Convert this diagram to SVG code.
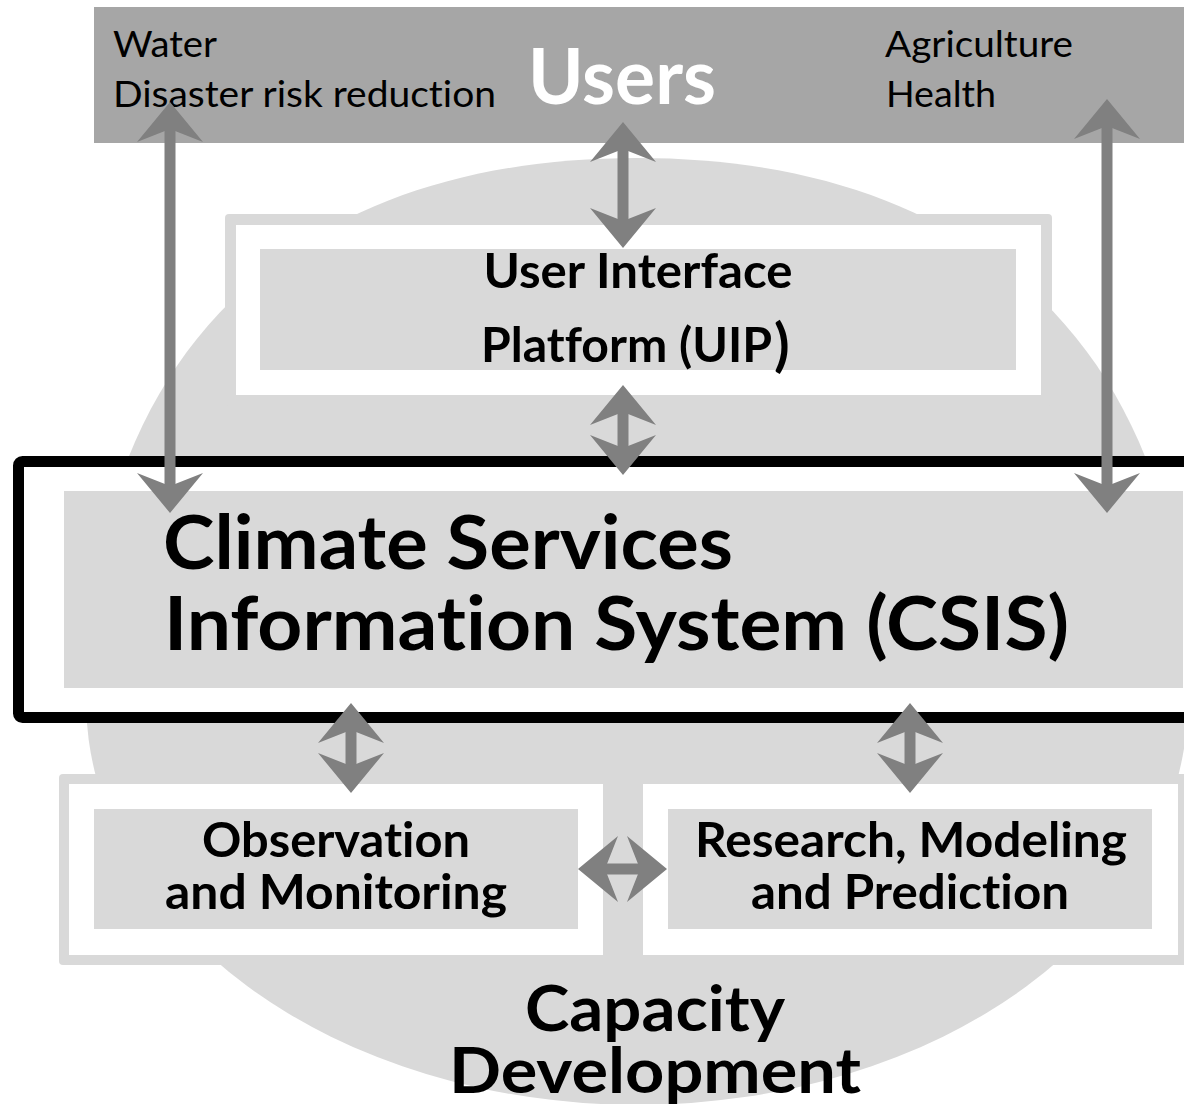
<svg xmlns="http://www.w3.org/2000/svg" width="1184" height="1104" viewBox="0 0 1184 1104">
  <defs>
    <style>
      .bar { fill: #a6a6a6; }
      .soft { fill: #d9d9d9; }
      .white { fill: #ffffff; }
      .frame { fill: #ffffff; stroke: #000000; stroke-width: 11; }
      .t { font-family: Lato, "Open Sans", "Liberation Sans", sans-serif; fill: #000000; font-variant-ligatures: none; font-feature-settings: "liga" 0, "clig" 0; }
      .reg { font-weight: 400; font-size: 37px; }
      .bold { font-weight: 700; }
      .shaft { stroke: #808080; stroke-width: 11; fill: none; }
      .head { fill: #808080; }
    </style>
    <!-- arrowhead pointing up, tip at the origin -->
    <path id="ah" d="M0 0 L33 40 L0 27 L-33 40 Z"/>
  </defs>

  <rect width="1184" height="1104" fill="#ffffff"/>

  <!-- Capacity Development backdrop -->
  <g id="capacity-development">
    <path class="soft" d="M637 158 C984 158 1188 358 1188 700 A551 405 0 0 1 86 700 C86 358 290 158 637 158 Z"/>
    <text class="t bold" font-size="63" x="655" y="1031" text-anchor="middle" textLength="260" lengthAdjust="spacingAndGlyphs">Capacity</text>
    <text class="t bold" font-size="63" x="655" y="1093" text-anchor="middle" textLength="412" lengthAdjust="spacingAndGlyphs">Development</text>
  </g>

  <!-- Users bar -->
  <g id="users">
    <rect class="bar" x="94" y="7" width="1100" height="136"/>
    <text class="t reg" x="113" y="57" textLength="104" lengthAdjust="spacingAndGlyphs">Water</text>
    <text class="t reg" x="113" y="107" textLength="383" lengthAdjust="spacingAndGlyphs">Disaster risk reduction</text>
    <text class="t reg" x="885" y="57" textLength="188" lengthAdjust="spacingAndGlyphs">Agriculture</text>
    <text class="t reg" x="886" y="107" textLength="110" lengthAdjust="spacingAndGlyphs">Health</text>
    <text class="t bold" x="528" y="104" font-size="77" style="fill:#ffffff" textLength="188" lengthAdjust="spacingAndGlyphs">Users</text>
  </g>

  <!-- User Interface Platform -->
  <g id="uip">
    <rect class="soft" x="225" y="214" width="827" height="192" rx="4"/>
    <rect class="white" x="236" y="225" width="805" height="170"/>
    <rect class="soft" x="260" y="249" width="756" height="121"/>
    <text class="t bold" font-size="48" x="638" y="288" text-anchor="middle" textLength="309" lengthAdjust="spacingAndGlyphs">User Interface</text>
    <text class="t bold" font-size="48" x="481" y="362" textLength="291" lengthAdjust="spacingAndGlyphs">Platform (UIP</text>
    <text class="t bold" font-size="57" x="774" y="365">)</text>
  </g>

  <!-- Climate Services Information System -->
  <g id="csis">
    <rect class="frame" x="18.5" y="461.5" width="1200" height="256" rx="4"/>
    <rect class="soft" x="64" y="491" width="1119" height="197"/>
    <text class="t bold" font-size="75" x="163" y="569" textLength="570" lengthAdjust="spacingAndGlyphs">Climate Services</text>
    <text class="t bold" font-size="75" x="164" y="650" textLength="905" lengthAdjust="spacingAndGlyphs">Information System (CSIS)</text>
  </g>

  <!-- shared container of the two lower components -->
  <rect class="soft" x="59" y="774" width="1135" height="191" rx="4"/>

  <g id="observation">
    <rect class="white" x="69" y="784" width="534" height="171"/>
    <rect class="soft" x="94" y="809" width="484" height="120"/>
    <text class="t bold" font-size="48" x="336" y="857" text-anchor="middle" textLength="268" lengthAdjust="spacingAndGlyphs">Observation</text>
    <text class="t bold" font-size="48" x="336" y="909" text-anchor="middle" textLength="342" lengthAdjust="spacingAndGlyphs">and Monitoring</text>
  </g>

  <g id="research">
    <rect class="white" x="643" y="784" width="535" height="171"/>
    <rect class="soft" x="668" y="809" width="484" height="120"/>
    <text class="t bold" font-size="48" x="911" y="857" text-anchor="middle" textLength="432" lengthAdjust="spacingAndGlyphs">Research, Modeling</text>
    <text class="t bold" font-size="48" x="910" y="909" text-anchor="middle" textLength="318" lengthAdjust="spacingAndGlyphs">and Prediction</text>
  </g>

  <!-- connectors -->
  <g id="connectors">
    <!-- sector users to CSIS, left -->
    <line class="shaft" x1="170" y1="128" x2="170" y2="487"/>
    <use href="#ah" class="head" transform="translate(170 102)"/>
    <use href="#ah" class="head" transform="translate(170 513) rotate(180)"/>
    <!-- sector users to CSIS, right -->
    <line class="shaft" x1="1107" y1="125" x2="1107" y2="487"/>
    <use href="#ah" class="head" transform="translate(1107 99)"/>
    <use href="#ah" class="head" transform="translate(1107 513) rotate(180)"/>
    <!-- users to UIP -->
    <line class="shaft" x1="623" y1="148" x2="623" y2="222"/>
    <use href="#ah" class="head" transform="translate(623 122)"/>
    <use href="#ah" class="head" transform="translate(623 248) rotate(180)"/>
    <!-- UIP to CSIS -->
    <line class="shaft" x1="623" y1="411" x2="623" y2="449"/>
    <use href="#ah" class="head" transform="translate(623 385)"/>
    <use href="#ah" class="head" transform="translate(623 475) rotate(180)"/>
    <!-- CSIS to observation -->
    <line class="shaft" x1="351" y1="729" x2="351" y2="767"/>
    <use href="#ah" class="head" transform="translate(351 703)"/>
    <use href="#ah" class="head" transform="translate(351 793) rotate(180)"/>
    <!-- CSIS to research -->
    <line class="shaft" x1="910" y1="729" x2="910" y2="767"/>
    <use href="#ah" class="head" transform="translate(910 703)"/>
    <use href="#ah" class="head" transform="translate(910 793) rotate(180)"/>
    <!-- observation to research -->
    <line class="shaft" x1="604" y1="869" x2="641" y2="869"/>
    <use href="#ah" class="head" transform="translate(578 869) rotate(-90)"/>
    <use href="#ah" class="head" transform="translate(667 869) rotate(90)"/>
  </g>
</svg>
